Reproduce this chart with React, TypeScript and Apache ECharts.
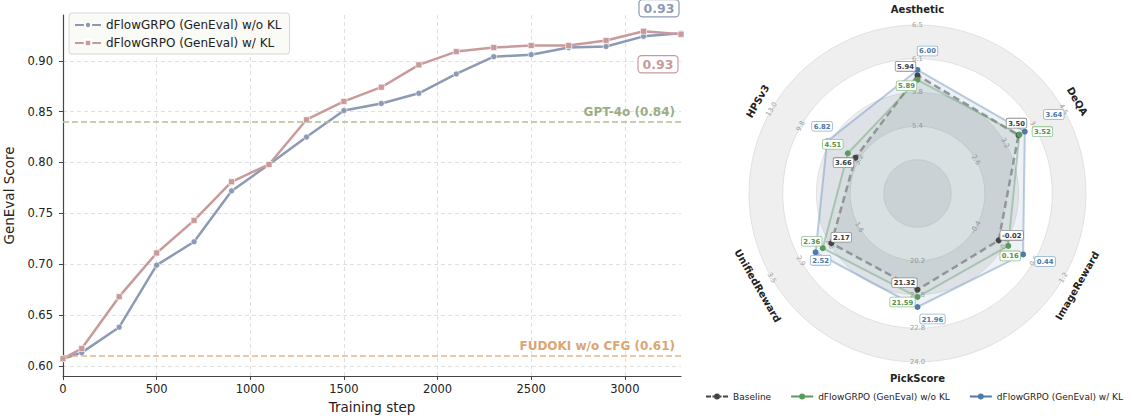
import React, { useEffect, useRef } from 'react';
import * as echarts from 'echarts';

const FONT = 'DejaVu Sans';

// ---- GenEval training curves ----
const steps = [0, 100, 300, 500, 700, 900, 1100, 1300, 1500, 1700, 1900, 2100, 2300, 2500, 2700, 2900, 3100, 3300];
const scoreNoKL = [0.607, 0.613, 0.638, 0.699, 0.722, 0.772, 0.798, 0.825, 0.851, 0.858, 0.868, 0.887, 0.904, 0.906, 0.913, 0.914, 0.924, 0.927];
const scoreKL = [0.607, 0.617, 0.668, 0.711, 0.743, 0.781, 0.798, 0.842, 0.860, 0.874, 0.896, 0.909, 0.913, 0.915, 0.915, 0.920, 0.929, 0.926];
const gpt4oScore = 0.84;
const fudokiScore = 0.607;
const xTicks = [0, 500, 1000, 1500, 2000, 2500, 3000];
const yTicks = [0.6, 0.65, 0.7, 0.75, 0.8, 0.85, 0.9];

// ---- Reward radar ----
const radarAxes = ['Aesthetic', 'HPSv3', 'UnifiedReward', 'PickScore', 'ImageReward', 'DeQA'];
const radarMax = [6.5, 13.0, 3.5, 24.0, 1.2, 4.5];
const radarStep = [0.375, 3.25, 0.65, 1.25, 0.55, 0.65];
const radarTickLabels = [
  ['', '', '5.4', '5.8', '6.1', '6.5'],
  ['', '', '3.2', '6.5', '9.8', '13.0'],
  ['', '', '1.6', '2.2', '2.9', '3.5'],
  ['', '', '20.2', '21.5', '22.8', '24.0'],
  ['', '', '-0.4', '0.1', '0.6', '1.2'],
  ['', '', '2.6', '3.2', '3.8', '4.5'],
];
const baselineScores = [5.94, 3.66, 2.17, 21.32, -0.02, 3.5];
const noKLScores = [5.89, 4.51, 2.36, 21.59, 0.16, 3.52];
const klScores = [6.0, 6.82, 2.52, 21.96, 0.44, 3.64];

const NAME_NO_KL = 'dFlowGRPO (GenEval) w/o KL';
const NAME_KL = 'dFlowGRPO (GenEval) w/ KL';
const NAME_BASE = 'Baseline';
// radar entries carry a prefix so their legend is kept apart from the line legend
const RADAR_PREFIX = 'radar:';

// styling
const LINE_BLUE = '#8c9ab4';
const LINE_PINK = '#c99a9b';
const GPT_COLOR = '#b4bf98';
const GPT_TEXT = '#9aae84';
const FUDOKI_COLOR = '#e5b58a';
const FUDOKI_TEXT = '#dca574';

const axisRotate = [0, 60, -60, 0, 60, -60];

const radarStyles = [
  {
    name: NAME_BASE,
    values: baselineScores,
    point: '#444444',
    line: { color: '#9c9c9c', width: 2.5, type: [7, 4] },
    area: 'rgba(120,125,130,0.16)',
    text: '#3a3a3a',
    border: '#8a8a8a',
    offsets: [[-12, -9], [-12, 5], [10, -6], [-13, -7], [13, -5], [-2, -12]],
  },
  {
    name: NAME_NO_KL,
    values: noKLScores,
    point: '#5a9a5a',
    line: { color: 'rgba(110,165,110,0.45)', width: 2 },
    area: 'rgba(110,160,110,0.09)',
    text: '#4f9350',
    border: '#8cc08c',
    offsets: [[-11, 6], [-15, -9], [-11, -7], [-15, 5], [2, 10], [23, -3]],
  },
  {
    name: NAME_KL,
    values: klScores,
    point: '#4e7bab',
    line: { color: 'rgba(120,155,195,0.5)', width: 2 },
    area: 'rgba(85,125,170,0.14)',
    text: '#4a78a9',
    border: '#8fb0d2',
    offsets: [[10, -19], [-5, -15], [5, 8], [15, 12], [22, 7], [29, -17]],
  },
];

const iconSolid = 'path://M0,2.6H22V4.4H0Z M14,3.5A3,3 0 1 1 8,3.5A3,3 0 1 1 14,3.5Z';
const iconDashed = 'path://M0,2.6H5V4.4H0Z M6.5,2.6H8V4.4H6.5Z M14,2.6H15.5V4.4H14Z M17,2.6H22V4.4H17Z M14,3.5A3,3 0 1 1 8,3.5A3,3 0 1 1 14,3.5Z';

function lineData(values: number[], labelOffset: number[], color: string) {
  const last = values.length - 1;
  return steps.map((s, i) =>
    i === last
      ? {
          value: [s, values[i]],
          label: {
            show: true,
            position: 'inside',
            offset: labelOffset,
            formatter: (p: any) => Number(p.value[1]).toFixed(2),
            color,
            fontWeight: 'bold',
            fontSize: 12.5,
            fontFamily: FONT,
            backgroundColor: '#ffffff',
            borderColor: color,
            borderWidth: 1.2,
            borderRadius: 3,
            padding: [2, 4, 1, 4],
          },
        }
      : [s, values[i]]
  );
}

function buildOption(): any {
  const radarMin = radarMax.map((m, i) => m - 5 * radarStep[i]);

  const mainRadarData = radarStyles.map((r) => ({
    name: RADAR_PREFIX + r.name,
    value: r.values,
    symbol: 'circle',
    symbolSize: 6,
    itemStyle: { color: r.point, borderWidth: 0 },
    lineStyle: r.line,
    areaStyle: { color: r.area },
  }));

  const labelRadarData: any[] = [];
  radarStyles.forEach((r, si) => {
    r.values.forEach((v, k) => {
      labelRadarData.push({
        name: `label-${si}-${k}`,
        value: r.values,
        symbol: 'circle',
        symbolSize: 1,
        itemStyle: { color: 'rgba(0,0,0,0)' },
        lineStyle: { width: 0, opacity: 0 },
        label: {
          show: true,
          position: 'inside',
          offset: r.offsets[k],
          formatter: (p: any) => (p.value === v ? `{b|${v.toFixed(2)}}` : ''),
          rich: {
            b: {
              color: r.text,
              fontWeight: 'bold',
              fontSize: 6.8,
              fontFamily: FONT,
              backgroundColor: '#ffffff',
              borderColor: r.border,
              borderWidth: 0.8,
              borderRadius: 1.5,
              padding: [1.5, 1.5, 0.5, 1.5],
              lineHeight: 8,
            },
          },
        },
      });
    });
  });

  const gridLine = { show: true, lineStyle: { color: '#e0e0e0', type: [4, 3], width: 1 } };

  return {
    animation: false,
    textStyle: { fontFamily: FONT },
    grid: { left: 63, right: 452, top: 15, bottom: 43, containLabel: false, outerBoundsMode: 'none' },
    legend: [
      {
        data: [NAME_NO_KL, NAME_KL],
        orient: 'vertical',
        left: 69,
        top: 13,
        itemWidth: 26,
        itemHeight: 8,
        itemGap: 6,
        padding: [6, 8, 5, 5],
        backgroundColor: 'rgba(250,250,246,0.92)',
        borderColor: '#d6d6d6',
        borderWidth: 1,
        borderRadius: 3,
        textStyle: { fontSize: 12, color: '#222', fontFamily: FONT },
      },
      {
        data: [
          { name: RADAR_PREFIX + NAME_BASE, icon: iconDashed },
          { name: RADAR_PREFIX + NAME_NO_KL, icon: iconSolid },
          { name: RADAR_PREFIX + NAME_KL, icon: iconSolid },
        ],
        formatter: (name: string) => name.slice(RADAR_PREFIX.length),
        orient: 'horizontal',
        left: 704,
        top: 390,
        itemWidth: 22,
        itemHeight: 7,
        itemGap: 20,
        padding: 2,
        itemStyle: { borderWidth: 0 },
        textStyle: { fontSize: 9, color: '#222', fontFamily: FONT },
      },
    ],
    xAxis: {
      type: 'value',
      min: 0,
      max: 3300,
      interval: 500,
      name: 'Training step',
      nameLocation: 'middle',
      nameGap: 21,
      nameTextStyle: { fontSize: 13.5, color: '#222', fontFamily: FONT },
      axisLine: { lineStyle: { color: '#444', width: 1.2 } },
      axisTick: { show: true, length: 4, lineStyle: { color: '#444' }, customValues: xTicks },
      axisLabel: {
        color: '#222',
        fontSize: 11.5,
        fontFamily: FONT,
        margin: 7,
        customValues: xTicks,
        formatter: (v: number) => String(v),
      },
      splitLine: gridLine,
    },
    yAxis: {
      type: 'value',
      min: 0.59,
      max: 0.945,
      splitNumber: 7,
      name: 'GenEval Score',
      nameLocation: 'middle',
      nameGap: 42,
      nameTextStyle: { fontSize: 13.5, color: '#222', fontFamily: FONT },
      axisLine: { show: true, lineStyle: { color: '#444', width: 1.2 } },
      axisTick: { show: true, length: 4, lineStyle: { color: '#444' }, customValues: yTicks },
      axisLabel: {
        color: '#222',
        fontSize: 11.5,
        fontFamily: FONT,
        margin: 10,
        customValues: yTicks,
        formatter: (v: number) => v.toFixed(2),
      },
      splitLine: gridLine,
    },
    radar: {
      center: [917.5, 193.5],
      radius: 168.5,
      startAngle: 90,
      splitNumber: 5,
      shape: 'circle',
      axisNameGap: 11,
      axisName: { color: '#222', fontWeight: 'bold', fontSize: 10, fontFamily: FONT },
      indicator: radarAxes.map((name, i) => ({
        name,
        min: radarMin[i],
        max: radarMax[i],
        nameRotate: axisRotate[i],
        axisLabel: {
          rotate: axisRotate[i],
          formatter: (v: number) => {
            const k = Math.round((v - radarMin[i]) / radarStep[i]);
            return radarTickLabels[i][k] ?? '';
          },
        },
      })),
      axisLine: { show: false },
      axisTick: { show: false },
      axisLabel: {
        show: true,
        color: '#a0a0a0',
        fontSize: 6.8,
        fontFamily: FONT,
        margin: 0,
        align: 'center',
        verticalAlign: 'middle',
      },
      splitLine: { lineStyle: { color: '#dadada', width: 0.8 } },
      splitArea: { show: true, areaStyle: { color: ['#eeeeee', '#ffffff', '#eeeeee', '#ffffff', '#efefef'] } },
    },
    series: [
      {
        name: NAME_NO_KL,
        type: 'line',
        data: lineData(scoreNoKL, [-22, -25], LINE_BLUE),
        symbol: 'circle',
        symbolSize: 6,
        lineStyle: { color: LINE_BLUE, width: 2.5 },
        itemStyle: { color: LINE_BLUE, borderColor: '#ffffff', borderWidth: 0.6 },
        z: 3,
        markLine: {
          silent: true,
          symbol: 'none',
          animation: false,
          data: [
            {
              yAxis: gpt4oScore,
              lineStyle: { color: GPT_COLOR, type: [6, 3], width: 1.6 },
              label: {
                position: 'insideEndTop',
                formatter: (p: any) => `GPT-4o (${Number(p.value).toFixed(2)})`,
                color: GPT_TEXT,
                fontWeight: 'bold',
                fontSize: 12,
                fontFamily: FONT,
                distance: [6, 4],
              },
            },
            {
              yAxis: fudokiScore,
              lineStyle: { color: FUDOKI_COLOR, type: [6, 3], width: 1.6 },
              label: {
                position: 'insideEndTop',
                formatter: (p: any) => `FUDOKI w/o CFG (${Number(p.value).toFixed(2)})`,
                color: FUDOKI_TEXT,
                fontWeight: 'bold',
                fontSize: 12,
                fontFamily: FONT,
                distance: [6, 4],
              },
            },
          ],
        },
      },
      {
        name: NAME_KL,
        type: 'line',
        data: lineData(scoreKL, [-23, 30], LINE_PINK),
        symbol: 'rect',
        symbolSize: 6,
        lineStyle: { color: LINE_PINK, width: 2.5 },
        itemStyle: { color: LINE_PINK, borderColor: '#ffffff', borderWidth: 0.6 },
        z: 4,
      },
      {
        type: 'radar',
        radarIndex: 0,
        data: mainRadarData,
        z: 2,
      },
      {
        type: 'radar',
        radarIndex: 0,
        data: labelRadarData,
        silent: true,
        z: 6,
      },
    ],
  };
}

export default function App() {
  const ref = useRef<HTMLDivElement>(null);
  useEffect(() => {
    if (!ref.current) return;
    const chart = echarts.init(ref.current, null, { renderer: 'svg' });
    chart.setOption(buildOption());
    return () => chart.dispose();
  }, []);
  return (
    <div
      ref={ref}
      style={{ position: 'fixed', left: 0, top: 0, width: 1133, height: 419, background: '#ffffff' }}
    />
  );
}
